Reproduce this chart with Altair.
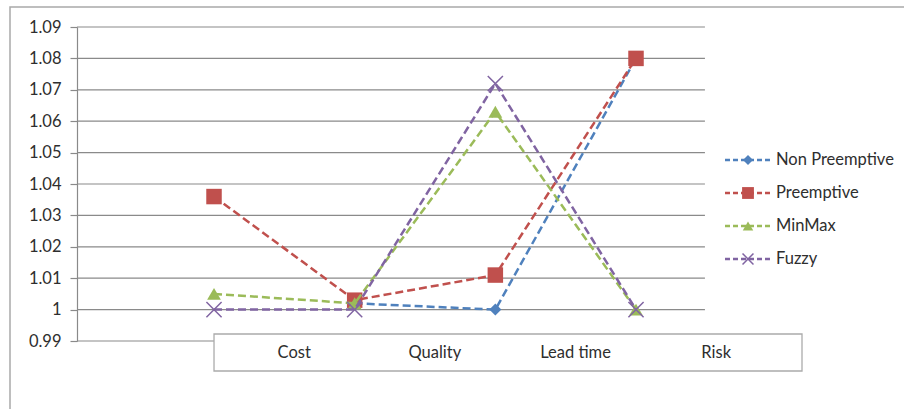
import altair as alt
import pandas as pd

# ---- data -------------------------------------------------------------
CATEGORIES = ["Cost", "Quality", "Lead time", "Risk"]
SERIES = ["Non Preemptive", "Preemptive", "MinMax", "Fuzzy"]
NON_PREEMPTIVE = [None, 1.002, 1.000, 1.080]
PREEMPTIVE = [1.036, 1.003, 1.011, 1.080]
MINMAX = [1.005, 1.002, 1.063, 1.000]
FUZZY = [1.000, 1.000, 1.072, 1.000]
Y_TICKS = [0.99, 1.00, 1.01, 1.02, 1.03, 1.04, 1.05, 1.06, 1.07, 1.08, 1.09]

VALUES = [NON_PREEMPTIVE, PREEMPTIVE, MINMAX, FUZZY]

# ---- styling ----------------------------------------------------------
FONT = "Lato"
FONT_SIZE = 16.5
TEXT_COLOR = "#2e2e2e"
GRID_COLOR = "#8a8a8a"
COLORS = ["#4F81BD", "#C0504D", "#9BBB59", "#8064A2"]
X_PATH = "M-1,-1L1,1M-1,1L1,-1"
SHAPES = ["diamond", "square", "triangle-up", X_PATH]
FILLED = [True, True, True, False]
SIZES = [144, 240, 190, 230]
LEGEND_SIZES = [100, 140, 110, 120]
DASH = [8, 4]

# plot geometry (category index units on x)
X_MIN, X_MAX = -0.974, 4.18
GRID_END = 3.49
LABEL_SHIFT = 0.57

x_scale = alt.Scale(domain=[X_MIN, X_MAX], nice=False, zero=False)
y_scale = alt.Scale(domain=[0.99, 1.09], nice=False, zero=False)
y_axis = alt.Axis(
    values=Y_TICKS,
    format=".2~f",
    grid=False,
    title=None,
    domainColor=GRID_COLOR,
    domainWidth=1.2,
    tickColor=GRID_COLOR,
    tickWidth=1.2,
    tickSize=7,
    labelPadding=9,
    labelFont=FONT,
    labelFontSize=FONT_SIZE,
    labelColor=TEXT_COLOR,
)

layers = []

# horizontal gridlines + y axis
grid_df = pd.DataFrame({"v": Y_TICKS})
grid = (
    alt.Chart(grid_df)
    .transform_calculate(x0=str(X_MIN), x1=str(GRID_END))
    .mark_rule(color=GRID_COLOR, strokeWidth=1.2)
    .encode(
        x=alt.X("x0:Q", scale=x_scale, axis=None),
        x2="x1:Q",
        y=alt.Y("v:Q", scale=y_scale, axis=y_axis),
    )
)
layers.append(grid)

# category label box
box_df = pd.DataFrame({"x0": [0.0], "x1": [X_MAX]})
box = (
    alt.Chart(box_df)
    .mark_rect(fill="white", stroke="#ababab", strokeWidth=1.3)
    .encode(
        x=alt.X("x0:Q", scale=x_scale, axis=None),
        x2="x1:Q",
        y=alt.value(307),
        y2=alt.value(344),
    )
)
layers.append(box)

cat_df = pd.DataFrame({"category": CATEGORIES, "idx": list(range(len(CATEGORIES)))})
cat_text = (
    alt.Chart(cat_df)
    .transform_calculate(pos=f"datum.idx + {LABEL_SHIFT}")
    .mark_text(font=FONT, fontSize=FONT_SIZE, color=TEXT_COLOR, baseline="middle",
               align="center")
    .encode(
        x=alt.X("pos:Q", scale=x_scale, axis=None),
        y=alt.value(326),
        text="category:N",
    )
)
layers.append(cat_text)

# series: dashed line plus markers, drawn in series order
for i, name in enumerate(SERIES):
    df = pd.DataFrame(
        {
            "category": CATEGORIES,
            "idx": list(range(len(CATEGORIES))),
            "value": VALUES[i],
        }
    ).dropna()
    base = alt.Chart(df).encode(
        x=alt.X("idx:Q", scale=x_scale, axis=None),
        y=alt.Y("value:Q", scale=y_scale, axis=y_axis),
    )
    line = base.mark_line(color=COLORS[i], strokeWidth=2.5, strokeDash=DASH)
    if FILLED[i]:
        pts = base.mark_point(
            shape=SHAPES[i], size=SIZES[i], filled=True, color=COLORS[i], opacity=1
        )
    else:
        pts = base.mark_point(
            shape=SHAPES[i], size=SIZES[i], filled=False, color=COLORS[i],
            strokeWidth=1.5, opacity=1,
        )
    layers += [line, pts]

# legend on the right
LEG_Y0, LEG_STEP = 133, 33
for i, name in enumerate(SERIES):
    ldf = pd.DataFrame({"name": [name]})
    yv = LEG_Y0 + i * LEG_STEP
    lb = alt.Chart(ldf)
    layers.append(
        lb.mark_rule(color=COLORS[i], strokeWidth=2.5, strokeDash=[5, 3]).encode(
            x=alt.value(648), x2=alt.value(694), y=alt.value(yv)
        )
    )
    if FILLED[i]:
        lp = lb.mark_point(shape=SHAPES[i], size=LEGEND_SIZES[i], filled=True,
                           color=COLORS[i], opacity=1)
    else:
        lp = lb.mark_point(shape=SHAPES[i], size=LEGEND_SIZES[i], filled=False,
                           color=COLORS[i], strokeWidth=1.5, opacity=1)
    layers.append(lp.encode(x=alt.value(671), y=alt.value(yv)))
    layers.append(
        lb.mark_text(font=FONT, fontSize=FONT_SIZE, color=TEXT_COLOR, align="left",
                     baseline="middle")
        .encode(x=alt.value(699), y=alt.value(yv), text="name:N")
    )

# outer chart border
frame = (
    alt.Chart(pd.DataFrame({"k": [0]}))
    .mark_rect(fill="transparent", stroke="#a9a9a9", strokeWidth=1.5)
    .encode(x=alt.value(-67), x2=alt.value(900), y=alt.value(-20), y2=alt.value(420))
)
layers.append(frame)

chart = (
    alt.layer(*layers)
    .properties(
        width=725,
        height=314,
        padding={"left": 77, "top": 27, "right": 102, "bottom": 68},
        autosize=alt.AutoSizeParams(type="none"),
        background="white",
    )
    .configure_view(stroke=None)
)

chart.save("out.html", embed_options={"renderer": "svg", "actions": False})
